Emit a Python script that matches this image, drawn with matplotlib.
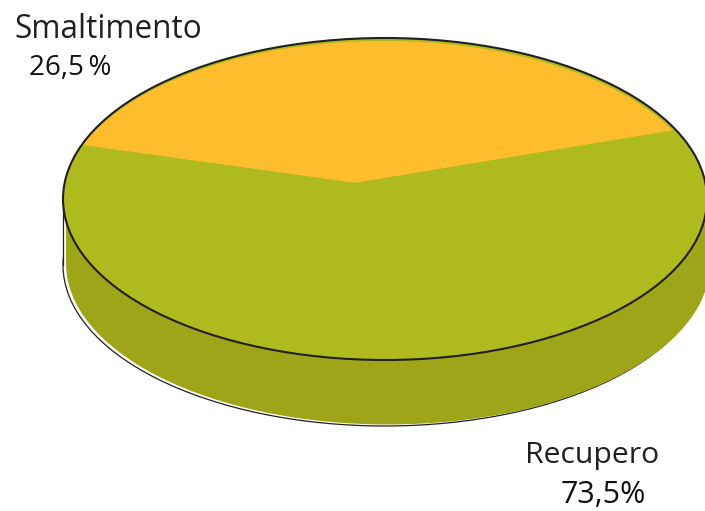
import matplotlib
matplotlib.use("Agg")
import matplotlib.pyplot as plt
from matplotlib.patches import Ellipse, Rectangle

W, H = 705, 511
categories = ["Smaltimento", "Recupero"]
value_labels = ["26,5\u2009%", "73,5%"]
# Slice shares as actually drawn in the reference (its wedge is wider than its label says).
drawn_shares = [40.6, 59.4]

ORANGE, GREEN, DARK, INK = "#febd2c", "#afba1e", "#9fa518", "#231f20"
CX, CY, RX, RY, DEPTH = 385.0, 199.0, 322.0, 161.0, 66.0


def ux(px):
    return (px - CX) / RX


def uy(py):
    return (CY - py) / RY


fig = plt.figure(figsize=(W / 100, H / 100), dpi=100)
ax = fig.add_axes([0, 0, 1, 1])
apex = (ux(355), uy(183))

# Side wall
d = DEPTH / RY
ax.add_patch(Ellipse((0, -d), 2, 2, fc="white", ec=INK, lw=0.9, zorder=1))
ax.add_patch(Rectangle((-1, -d), 2, d, fc="white", ec="none", zorder=1))
ax.plot([-1, -1], [0, -d], color=INK, lw=0.9, zorder=1.5)
ax.add_patch(Ellipse((3 / RX, -d + 1.5 / RY), 2, 2, fc=DARK, ec="none", zorder=2))
ax.add_patch(Rectangle((-1 + 3 / RX, -d), 2, d, fc=DARK, ec="none", zorder=2))

# Top face
top = Ellipse((0, 0), 2, 2, fc=GREEN, ec="none", zorder=3)
ax.add_patch(top)
wedges, _ = ax.pie(drawn_shares, startangle=18.3, center=apex, radius=1.7,
                   colors=[ORANGE, GREEN], wedgeprops={"lw": 0, "zorder": 4})
inner = Ellipse((ux(384), uy(201.5)), 2 * 322 / RX, 2 * 160.5 / RY, fc="none", ec="none")
ax.add_patch(inner)
wedges[0].set_clip_on(True)
wedges[1].set_clip_on(True)
wedges[0].set_clip_path(inner)
wedges[1].set_clip_path(top)
ax.add_patch(Ellipse((0, 0), 2, 2, fc="none", ec=INK, lw=1.5, zorder=5))

ax.set_aspect("auto")
ax.set_xlim(ux(0), ux(W))
ax.set_ylim(uy(H), uy(0))
ax.axis("off")

font = "Open Sans"
fig.text(14 / W, 1 - 38 / H, categories[0], family=font, fontsize=22.7, color=INK, va="baseline")
fig.text(29 / W, 1 - 75 / H, value_labels[0], family=font, fontsize=20, color="#111111", va="baseline")
fig.text(525 / W, 1 - 463 / H, categories[1], family=font, fontsize=21.7, color=INK, va="baseline")
fig.text(561 / W, 1 - 503 / H, value_labels[1], family=font, fontsize=22, color="#111111", va="baseline")

fig.savefig("out.png", dpi=100)
